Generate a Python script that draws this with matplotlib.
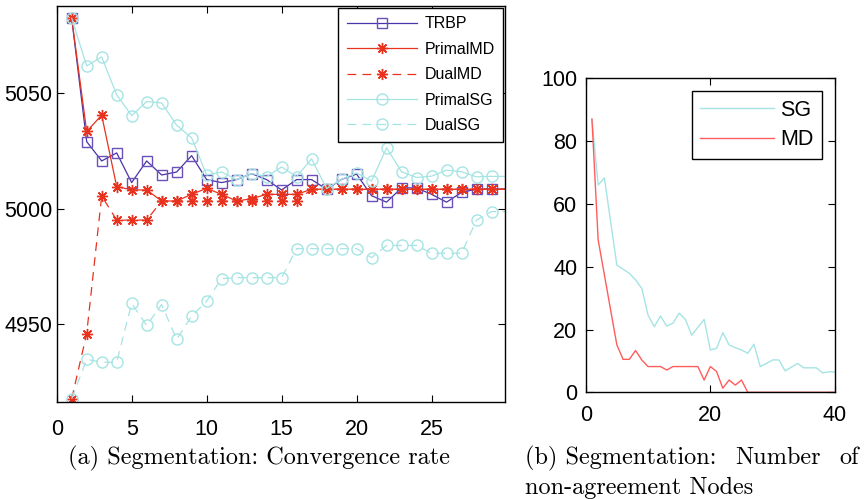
import numpy as np
import matplotlib.pyplot as plt

plt.rcParams['font.family'] = ['Liberation Sans', 'DejaVu Sans']

# ---- (a) convergence rate ----
it = np.arange(1, 31)
trbp = [5082.7, 5029.1, 5020.7, 5024.2, 5011.3, 5020.7, 5014.6, 5015.9, 5023.0, 5012.6,
        5011.3, 5012.6, 5015.2, 5012.6, 5008.1, 5012.6, 5012.6, 5008.4, 5012.7, 5015.0,
        5005.6, 5002.8, 5009.0, 5009.0, 5006.2, 5002.8, 5007.0, 5008.5, 5008.5, 5008.5]
primal_md = [5082.7, 5033.5, 5040.6, 5009.6, 5008.1, 5008.1, 5003.3, 5003.3, 5006.2, 5008.8,
             5006.2, 5003.3, 5004.3, 5006.2, 5006.2, 5006.2, 5008.4, 5008.4, 5008.4, 5008.4,
             5008.4, 5008.4, 5008.4, 5008.4, 5008.4, 5008.4, 5008.4, 5008.4, 5008.4, 5008.4]
dual_md = [4917.4, 4945.7, 5005.5, 4995.0, 4995.0, 4995.0, 5003.3, 5003.3, 5003.3, 5003.3,
           5003.3, 5003.3, 5003.3, 5003.3, 5003.3, 5003.3, 5008.4, 5008.4, 5008.4, 5008.4,
           5008.4, 5008.4, 5008.4, 5008.4, 5008.4, 5008.4, 5008.4, 5008.4, 5008.4, 5008.4]
primal_sg = [5082.7, 5062.0, 5065.9, 5049.4, 5040.4, 5046.5, 5045.9, 5036.2, 5030.7, 5014.6,
             5015.9, 5012.6, 5015.2, 5013.9, 5018.1, 5013.9, 5021.6, 5008.7, 5012.7, 5015.5,
             5012.0, 5026.4, 5016.0, 5013.5, 5014.1, 5016.7, 5016.0, 5013.8, 5014.0, 5014.0]
dual_sg = [4917.4, 4934.5, 4933.3, 4933.3, 4958.8, 4949.3, 4958.3, 4943.2, 4953.3, 4959.8,
           4969.6, 4970.0, 4970.0, 4970.0, 4970.0, 4982.6, 4982.6, 4982.6, 4982.6, 4982.6,
           4978.7, 4984.0, 4984.0, 4984.0, 4980.6, 4980.6, 4980.6, 4995.0, 4998.7, 4998.7]

# ---- (b) non-agreement nodes ----
step = np.arange(1, 41)
sg_nodes = [87, 66, 68.3, 54.4, 40.5, 39.2, 37.9, 35.8, 33.1, 24.6,
            20.9, 24.3, 21.1, 22, 25.2, 23.2, 18.2, 20.7, 23.2, 13.5,
            14, 19, 15.1, 14.2, 13.5, 12.4, 15.3, 8.2, 9.2, 10.3,
            10.3, 6.8, 8, 9.2, 7.8, 7.8, 7.8, 6.2, 6.5, 6.5]
md_nodes = [87, 48.5, 37.4, 26.2, 15.1, 10.5, 10.5, 13.3, 10.3, 8.2,
            8.2, 8.2, 7.1, 8.2, 8.2, 8.2, 8.2, 8.2, 3.9, 8.2,
            6.6, 1.3, 3.9, 2.3, 3.9, 0, 0, 0, 0, 0,
            0, 0, 0, 0, 0, 0, 0, 0, 0, 0]

purple = '#4a32a8'
red = '#e8321e'
cyan = '#a6e4e4'

fig = plt.figure(figsize=(8.65, 4.99), dpi=100)

ax = fig.add_axes([56.7/865, 1-402/499, (505-56.7)/865, 396/499])
mk = slice(0, 29)
ax.plot(it, trbp, '-', color=purple, lw=0.9, marker='s', ms=7, mfc='none', mec='#6a50b8',
        markevery=mk, label='TRBP')
ax.plot(it, primal_md, '-', color=red, lw=0.9, marker=(8, 2, 0), ms=8, mew=1.0,
        markevery=mk, label='PrimalMD')
ax.plot(it, dual_md, '--', color=red, lw=0.9, dashes=(7, 5), marker=(8, 2, 0), ms=8, mew=1.0,
        markevery=mk, label='DualMD')
ax.plot(it, primal_sg, '-', color=cyan, lw=0.9, marker='o', ms=8, mfc='none',
        markevery=mk, label='PrimalSG')
ax.plot(it, dual_sg, '--', color=cyan, lw=0.9, dashes=(7, 5), marker='o', ms=8, mfc='none',
        markevery=mk, label='DualSG')
ax.set_xlim(0, 29.9)
ax.set_ylim(4916, 5088)
ax.set_xticks([0, 5, 10, 15, 20, 25])
ax.set_yticks([4950, 5000, 5050])
ax.tick_params(direction='in', top=True, right=True, labelsize=15.5, length=5)
ax.tick_params(axis='x', pad=12)
ax.tick_params(axis='y', pad=3)
leg = ax.legend(loc='upper right', fontsize=11.5, fancybox=False, edgecolor='black',
                framealpha=1, borderaxespad=0.1, handlelength=4.4, handletextpad=0.45,
                labelspacing=0.65, borderpad=0.55)
leg.get_frame().set_linewidth(1.0)

bx = fig.add_axes([585.7/865, 1-392.3/499, 249.3/865, 314/499])
bx.plot(step, sg_nodes, color=cyan, lw=1.0, label='SG')
bx.plot(step, md_nodes, color='#ff5c5c', lw=1.0, label='MD')
bx.set_xlim(0, 40)
bx.set_ylim(0, 100)
bx.set_xticks([0, 20, 40])
bx.set_yticks([0, 20, 40, 60, 80, 100])
bx.tick_params(direction='in', top=True, right=True, labelsize=15.5, length=5)
bx.tick_params(axis='x', pad=9)
bx.tick_params(axis='y', pad=6)
leg2 = bx.legend(loc='upper right', fontsize=15.5, fancybox=False, edgecolor='black',
                 framealpha=1, borderaxespad=0.6, handlelength=3.4, handletextpad=0.3,
                 labelspacing=0.4, borderpad=0.4)
leg2.get_frame().set_linewidth(1.0)

for a in (ax, bx):
    for s in a.spines.values():
        s.set_linewidth(1.0)

cap = dict(family='cmr10', fontsize=17.5, va='baseline')
fig.text(259/865, 1-464/499, '(a) Segmentation: Convergence rate', ha='center', **cap)
t1 = fig.text(525/865, 1-464/499, '(b) Segmentation:', ha='left', **cap)
t2 = fig.text(700/865, 1-464/499, 'Number', ha='left', **cap)
t3 = fig.text(859/865, 1-464/499, 'of', ha='right', **cap)
fig.text(525/865, 1-494/499, 'non-agreement Nodes', ha='left', **cap)

# spread the first line of caption (b) like a justified paragraph
fig.canvas.draw()
r = fig.canvas.get_renderer()
e1, e2, e3 = [t.get_window_extent(r) for t in (t1, t2, t3)]
gap = (e3.x0 - e1.x1 - e2.width) / 2
t2.set_x((e1.x1 + gap) / fig.bbox.width)

fig.savefig('out.png', dpi=100)
